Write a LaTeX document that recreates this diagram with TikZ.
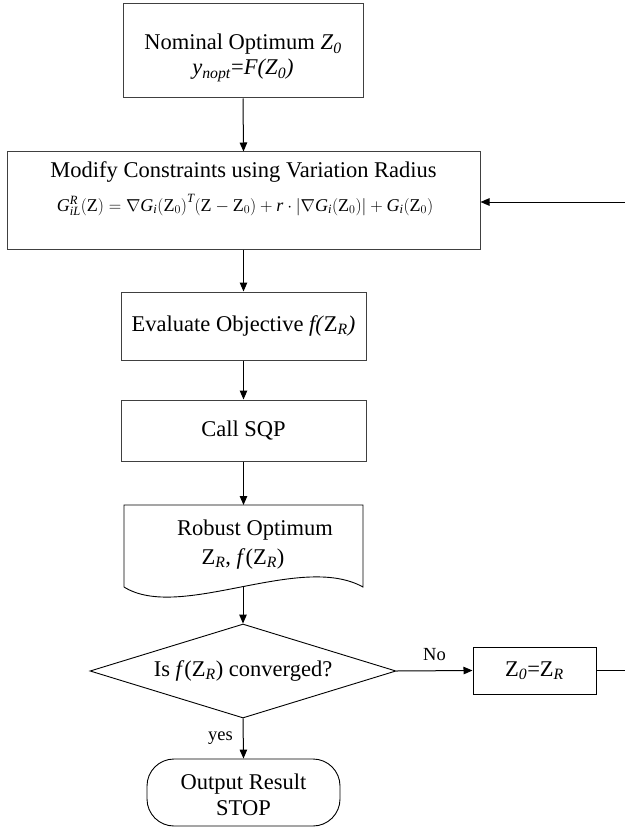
\documentclass[tikz,border=0pt]{standalone}
\usepackage{fontspec}
\setmainfont{Liberation Serif}
\usetikzlibrary{arrows.meta,shapes.geometric}
\begin{document}
\begin{tikzpicture}[x=1pt,y=-1pt,
  procbox/.style={draw=black!75, line width=1pt, inner sep=0pt},
  plainbox/.style={draw=black, line width=1pt, inner sep=0pt},
  conn/.style={draw=black, line width=1pt},
  arr/.style={conn, -{Triangle[length=9pt,width=7.5pt]}},
  txt/.style={font=\fontsize{22.5}{27}\selectfont, inner sep=0pt},
  lbl/.style={font=\fontsize{18.5}{22}\selectfont, inner sep=0pt},
]
\useasboundingbox (0,0) rectangle (624,837);

% process boxes
\node[procbox, minimum width=240pt, minimum height=94pt] (n1) at (243,51) {};
\node[procbox, minimum width=473pt, minimum height=97pt] (n2) at (243.5,200.5) {};
\node[procbox, minimum width=245pt, minimum height=68pt] (n3) at (243.5,326) {};
\node[procbox, minimum width=245pt, minimum height=61pt] (n4) at (243.5,430.5) {};

% texts of box 1
\node[txt, anchor=base] (t1a) at (243,50) {Nominal Optimum \textit{Z}\textsubscript{\textit{0}}};
\node[txt, anchor=base] (t1b) at (243,75) {\textit{y}\textsubscript{\textit{nopt}}=\textit{F(Z}\textsubscript{\textit{0}}\textit{)}};

% texts of box 2
\node[txt, anchor=base] (t2a) at (243.5,178) {Modify Constraints using Variation Radius};
\node[inner sep=0pt, font=\fontsize{18}{21}\selectfont] (t2b) at (245,205)
 {$\mathit{G}^{\mathit{R}}_{\mathit{iL}}\bigl(\mathrm{Z}\bigr)=\nabla\mathit{G}_{\mathit{i}}\bigl(\mathrm{Z}_{0}\bigr)^{\mathit{T}}\bigl(\mathrm{Z}-\mathrm{Z}_{0}\bigr)+\mathit{r}\cdot\bigl|\nabla\mathit{G}_{\mathit{i}}\bigl(\mathrm{Z}_{0}\bigr)\bigr|+\mathit{G}_{\mathit{i}}\bigl(\mathrm{Z}_{0}\bigr)$};

\node[txt] (t3) at (243.5,326) {Evaluate Objective \textit{f(}Z\textsubscript{\textit{R}}\textit{)}};
\node[txt] (t4) at (243.5,430.5) {Call SQP};

% document shape
\coordinate (doctop) at (243.5,505);
\coordinate (docbot) at (243,587);
\draw[conn, line width=0.9pt] (124,587) -- (124,505) -- (363,505) -- (363,587)
  .. controls (300,552) and (180,622) .. (124,587);
\node[txt, anchor=base] (t5a) at (255,535) {Robust Optimum};
\node[txt, anchor=base] (t5b) at (243,564) {Z\textsubscript{\textit{R}}, \textit{f}(Z\textsubscript{\textit{R}})};

% decision
\node[draw=black, line width=0.9pt, diamond, aspect=3.26, minimum width=306pt, minimum height=94pt, inner sep=0pt, txt] (d) at (243,671)
  {Is \textit{f}(Z\textsubscript{\textit{R}}) converged?};

% update box
\node[plainbox, minimum width=123pt, minimum height=47pt, txt] (z) at (534.5,670.5)
  {Z\textsubscript{\textit{0}}=Z\textsubscript{\textit{R}}};

% terminal
\node[draw=black, line width=0.9pt, rounded corners=27pt, minimum width=193pt, minimum height=67pt, inner sep=0pt] (term) at (243.5,792.5) {};
\node[txt, anchor=base] (t6a) at (243.5,789) {Output Result};
\node[txt, anchor=base] (t6b) at (243.5,815) {STOP};

% connectors
\draw[arr] (n1.south) -- (n2.north);
\draw[arr] (n2.south) -- (n3.north);
\draw[arr] (n3.south) -- (n4.north);
\draw[arr] (n4.south) -- (doctop);
\draw[arr] (docbot) -- (d.north);
\draw[arr] (d.east) -- node[lbl, above=10pt] (no) {No} (z.west);
\draw[arr] (d.south) -- node[lbl, left=10pt] (yes) {yes} (term.north);
\coordinate (c1) at (625,670.5);
\coordinate (c2) at (625,202);
\draw[arr] (z.east) -- (c1) -- (c2) -- (c2 -| n2.east);
\end{tikzpicture}
\end{document}
